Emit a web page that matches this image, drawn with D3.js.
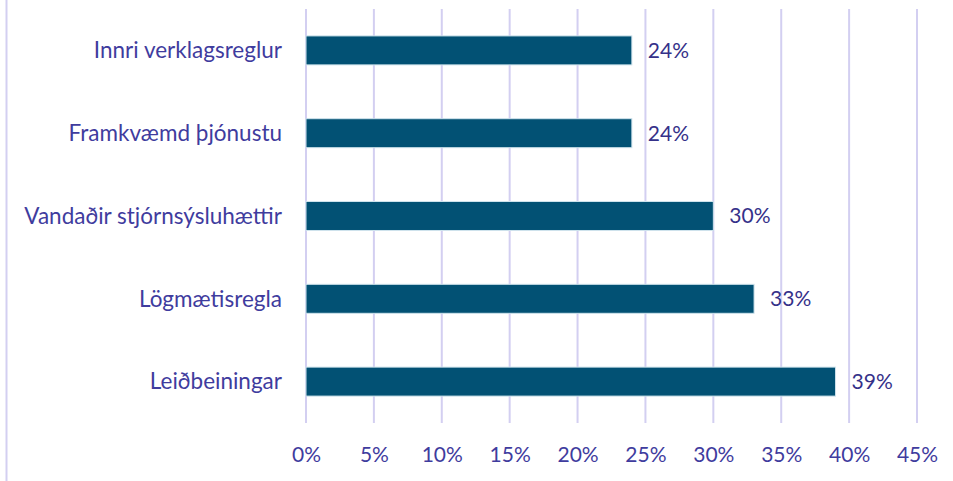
<!DOCTYPE html>
<html>
<head>
<meta charset="utf-8">
<script src="https://cdn.jsdelivr.net/npm/d3@7"></script>
<style>
  html, body { margin: 0; padding: 0; background: #fff; }
  svg { display: block; }
</style>
</head>
<body>
<svg id="chart" width="953" height="481"></svg>
<script>
const categories = ["Innri verklagsreglur", "Framkvæmd þjónustu", "Vandaðir stjórnsýsluhættir", "Lögmætisregla", "Leiðbeiningar"];
const values = [24, 24, 30, 33, 39];
const tickValues = [0, 5, 10, 15, 20, 25, 30, 35, 40, 45];

const svg = d3.select("#chart");
const W = 953, H = 481;
const margin = { left: 306, right: 36, top: 9, bottom: 58 };
const font = "Lato, 'Open Sans', sans-serif";
const textColor = "#3f3c9e";
const gridColor = "#d3cff1";
const fs = 22.5;
const fsNum = 21;

// outer frame line on the left
svg.append("line")
  .attr("x1", 6.5).attr("x2", 6.5)
  .attr("y1", 0).attr("y2", H)
  .attr("stroke", gridColor).attr("stroke-width", 2);

const x = d3.scaleLinear().domain([0, 45]).range([margin.left, W - margin.right]);
const y = d3.scaleBand().domain(categories).range([margin.top, H - margin.bottom]).paddingInner(0.65).paddingOuter(0.325);

// gridlines
svg.append("g").selectAll("line").data(tickValues).join("line")
  .attr("x1", d => x(d)).attr("x2", d => x(d))
  .attr("y1", margin.top).attr("y2", H - margin.bottom)
  .attr("stroke", gridColor).attr("stroke-width", 2);

// bars
svg.append("g").selectAll("rect").data(values).join("rect")
  .attr("x", x(0))
  .attr("y", (d, i) => y(categories[i]))
  .attr("width", d => x(d) - x(0))
  .attr("height", y.bandwidth())
  .attr("fill", "#025174")
  .attr("stroke", "#cfe3ec").attr("stroke-width", 1);

// data labels
svg.append("g").selectAll("text").data(values).join("text")
  .attr("x", d => x(d) + 16)
  .attr("y", (d, i) => y(categories[i]) + y.bandwidth() / 2)
  .attr("dy", "0.35em")
  .attr("font-family", font).attr("font-size", fsNum)
  .attr("fill", "#353189")
  .text(d => d + "%");

// category axis labels
svg.append("g").selectAll("text").data(categories).join("text")
  .attr("x", margin.left - 24)
  .attr("y", d => y(d) + y.bandwidth() / 2)
  .attr("dy", "0.35em")
  .attr("text-anchor", "end")
  .attr("font-family", font).attr("font-size", fs)
  .attr("fill", textColor)
  .text(d => d);

// x tick labels
const xAxis = d3.axisBottom(x).tickValues(tickValues).tickFormat(d => d + "%").tickSize(0).tickPadding(0);
const gx = svg.append("g").attr("transform", `translate(0, ${H - margin.bottom + 24})`).call(xAxis);
gx.select(".domain").remove();
gx.selectAll("text")
  .attr("font-family", font).attr("font-size", fsNum)
  .attr("fill", textColor);
</script>
</body>
</html>
